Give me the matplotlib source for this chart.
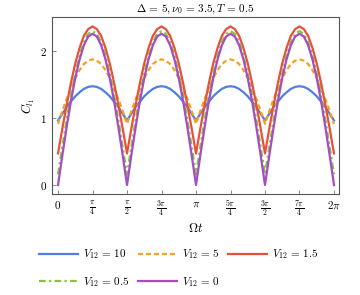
import numpy as np
import matplotlib
matplotlib.use("Agg")
import matplotlib.pyplot as plt

plt.rcParams["mathtext.fontset"] = "cm"
plt.rcParams["font.family"] = "serif"
plt.rcParams["font.serif"] = ["DejaVu Serif"]

V12_LABELS = [r"$V_{12}\,=\,10$", r"$V_{12}\,=\,5$", r"$V_{12}\,=\,1.5$",
              r"$V_{12}\,=\,0.5$", r"$V_{12}\,=\,0$"]
half_v10 = [0.96, 1.06, 1.16, 1.24, 1.32, 1.38, 1.43, 1.46, 1.47]
half_v5 = [0.91, 1.10, 1.28, 1.44, 1.59, 1.71, 1.80, 1.85, 1.87]
half_v15 = [0.47, 0.84, 1.19, 1.52, 1.81, 2.04, 2.22, 2.32, 2.36]
half_v05 = [0.16, 0.57, 0.97, 1.34, 1.66, 1.93, 2.13, 2.25, 2.29]
half_v0 = [0.00, 0.44, 0.86, 1.25, 1.59, 1.87, 2.08, 2.21, 2.25]

COLORS = ["#4f7fe3", "#f5a020", "#e8503a", "#86c440", "#a64cc4"]
STYLES = ["-", (0, (2.2, 1.4)), "-", (0, (3, 1.5, 1, 1.5)), "-"]

XTICKS = np.arange(9) * np.pi / 4
XTICKLABELS = [r"$0$", r"$\frac{\pi}{4}$", r"$\frac{\pi}{2}$", r"$\frac{3\pi}{4}$", r"$\pi$",
               r"$\frac{5\pi}{4}$", r"$\frac{3\pi}{2}$", r"$\frac{7\pi}{4}$", r"$2\pi$"]


def full_series(half):
    # one arch (rise + mirrored fall), repeated for the 4 periods
    arch = list(half) + list(half[-2::-1])
    arch = arch[:-1]
    return np.array(arch * 4 + [half[0]])


t = np.linspace(0, 2 * np.pi, 65)
series = [half_v10, half_v5, half_v15, half_v05, half_v0]

fig = plt.figure(figsize=(3.6, 2.95), dpi=100)
ax = fig.add_axes([52 / 360, 1 - 194 / 295, 287 / 360, 177 / 295])

lines = []
for half, lab, c, ls in zip(series, V12_LABELS, COLORS, STYLES):
    ln, = ax.plot(t, full_series(half), color=c, lw=1.6, ls=ls, label=lab)
    lines.append(ln)

ax.set_xlim(-0.137, 2 * np.pi + 0.114)
ax.set_ylim(-0.134, 2.5)
ax.set_xticks(XTICKS)
ax.set_xticklabels(XTICKLABELS, fontsize=8)
ax.set_yticks([0, 1, 2])
ax.set_yticklabels([r"$0$", r"$1$", r"$2$"], fontsize=8)
ax.tick_params(direction="in", length=3, width=0.6, color="#777777")
for sp in ax.spines.values():
    sp.set_color("#555555")
    sp.set_linewidth(0.8)

ax.set_title(r"$\Delta\,=\,5, \nu_0\,=\,3.5, T\,=\,0.5$", fontsize=8, pad=4)
ax.set_xlabel(r"$\Omega t$", fontsize=9, labelpad=2)
ax.set_ylabel(r"$C_{l_1}$", fontsize=9, labelpad=2)

# legend fills column-wise, so reorder to read row-wise like the original
order = [0, 3, 1, 4, 2]
fig.legend([lines[i] for i in order], [V12_LABELS[i] for i in order],
           loc="upper left", ncol=3, fontsize=8, frameon=False,
           bbox_to_anchor=(35 / 360, 1 - 243 / 295), handlelength=3.5,
           columnspacing=0.75, handletextpad=0.45, labelspacing=1.2, borderaxespad=0)

fig.savefig("out.png", dpi=100)
plt.close(fig)
